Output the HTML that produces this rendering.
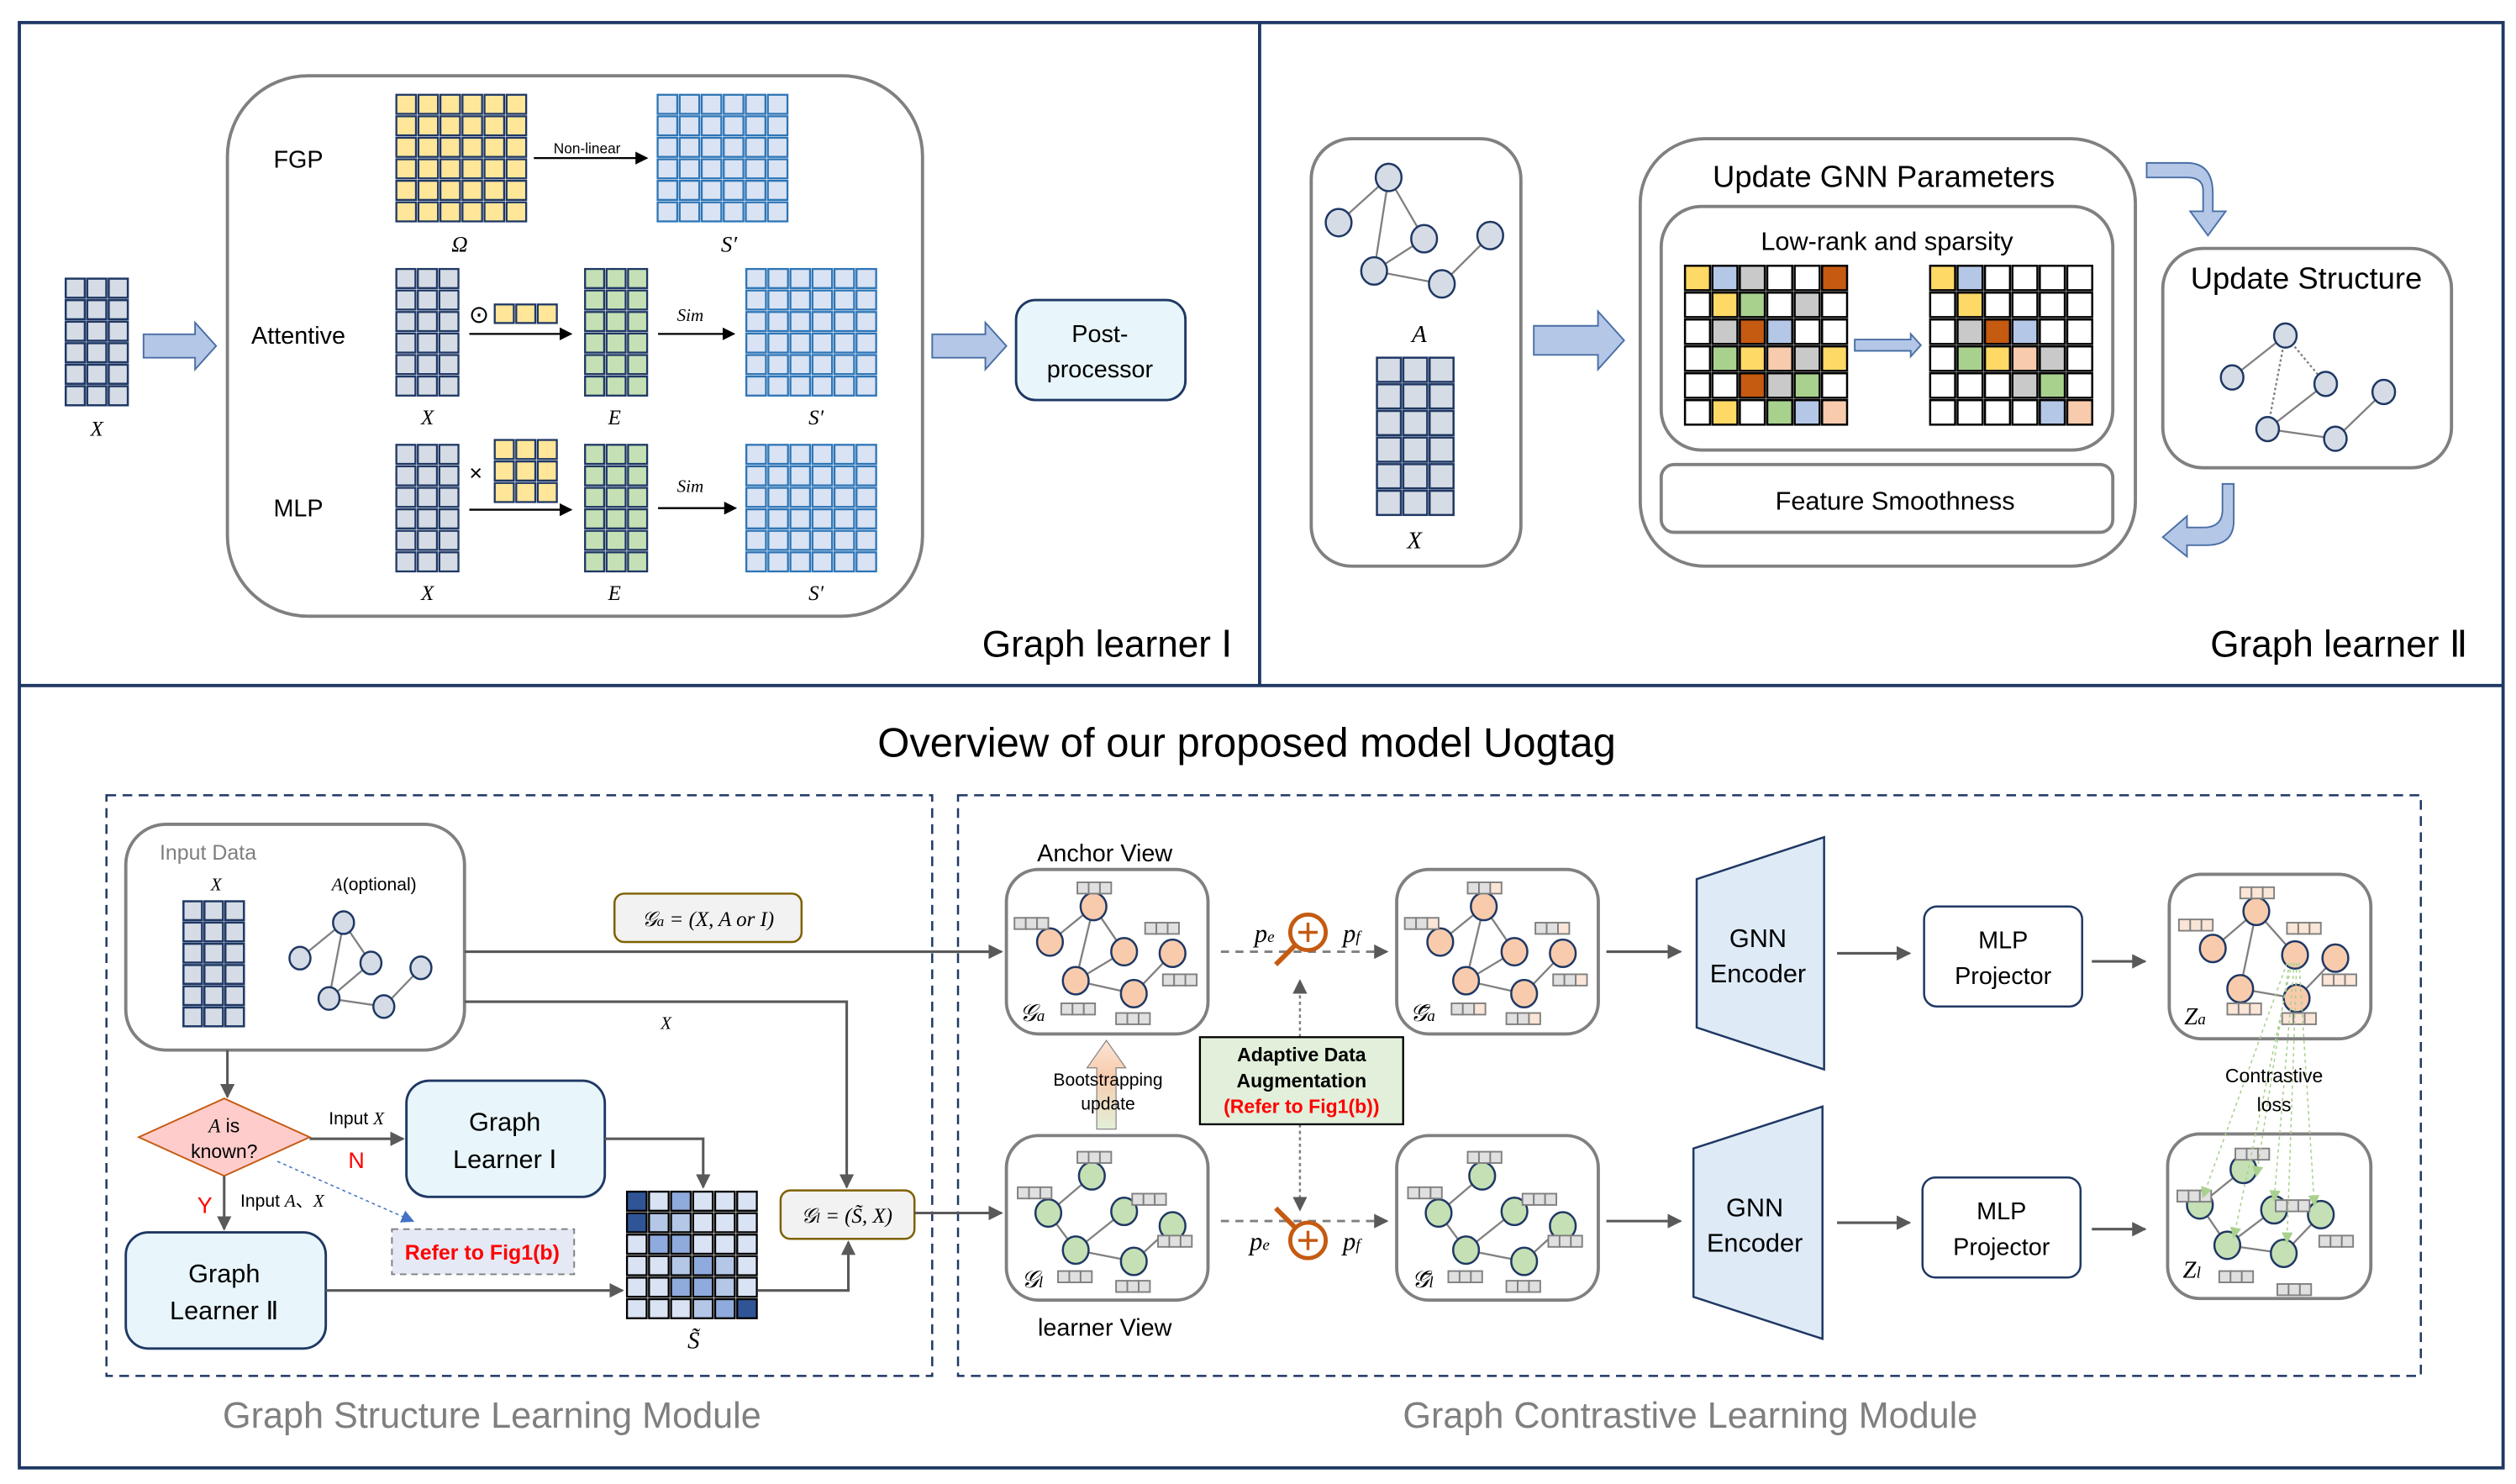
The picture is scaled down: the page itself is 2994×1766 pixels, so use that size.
<!DOCTYPE html>
<html><head><meta charset="utf-8"><style>
html,body{margin:0;padding:0;background:#fff}
svg{display:block}
text{font-family:"Liberation Sans",sans-serif}
.it{font-family:"Liberation Serif",serif;font-style:italic}
</style></head><body>
<svg id="s" width="2994" height="1766" viewBox="0 0 1560 920" preserveAspectRatio="none" xmlns="http://www.w3.org/2000/svg">
<defs>
<marker id="ah" markerWidth="8" markerHeight="8" refX="7" refY="4" orient="auto" markerUnits="userSpaceOnUse"><path d="M0,0 L8,4 L0,8 z" fill="#000"/></marker>
<marker id="ag" markerWidth="9" markerHeight="9" refX="8" refY="4.5" orient="auto" markerUnits="userSpaceOnUse"><path d="M0,0 L9,4.5 L0,9 z" fill="#595959"/></marker>
<marker id="ab" markerWidth="8" markerHeight="8" refX="7" refY="4" orient="auto" markerUnits="userSpaceOnUse"><path d="M0,0 L8,4 L0,8 z" fill="#4472c4"/></marker>
<marker id="agr" markerWidth="7" markerHeight="7" refX="6" refY="3.5" orient="auto" markerUnits="userSpaceOnUse"><path d="M0,0 L7,3.5 L0,7 z" fill="#a9d18e"/></marker>
<linearGradient id="bg" x1="0" y1="0" x2="0" y2="1"><stop offset="0" stop-color="#fbe5d6"/><stop offset="0.4" stop-color="#f8cbad"/><stop offset="1" stop-color="#e2f0d9"/></linearGradient>
</defs>
<g id="g"></g>
</svg>
<script>
var G=document.getElementById('g');var out='';
function a(s){out+=s;}
function rect(x,y,w,h,f,st,sw,rx,extra){a('<rect x="'+x+'" y="'+y+'" width="'+w+'" height="'+h+'" fill="'+f+'" stroke="'+st+'" stroke-width="'+(sw||1)+'" rx="'+(rx||0)+'" '+(extra||'')+'/>');}
function txt(x,y,s,sz,o){o=o||{};a('<text x="'+x+'" y="'+y+'" font-size="'+sz+'" text-anchor="'+(o.anchor||'middle')+'" fill="'+(o.fill||'#000')+'" '+(o.cls?'class="'+o.cls+'"':'')+' '+(o.extra||'')+'>'+s+'</text>');}
function line(x1,y1,x2,y2,st,sw,extra){a('<line x1="'+x1+'" y1="'+y1+'" x2="'+x2+'" y2="'+y2+'" stroke="'+st+'" stroke-width="'+(sw||1)+'" '+(extra||'')+'/>');}
function path(d,f,st,sw,extra){a('<path d="'+d+'" fill="'+f+'" stroke="'+st+'" stroke-width="'+(sw||1)+'" '+(extra||'')+'/>');}
function grid(x,y,w,h,c,r,fill,st,sw,gap){gap=gap==null?1.5:gap;var cw=w/c,ch=h/r;for(var i=0;i<r;i++)for(var j=0;j<c;j++){var f=typeof fill=='function'?fill(i,j):fill;rect(x+j*cw+gap/2,y+i*ch+gap/2,cw-gap,ch-gap,f,st,sw||1);}}
function barrow(x1,y1,x2,y2){var h=y2-y1,m=(y1+y2)/2,t=h*0.25,hx=x2-(h*0.45);path('M'+x1+','+(y1+t)+' L'+hx+','+(y1+t)+' L'+hx+','+y1+' L'+x2+','+m+' L'+hx+','+y2+' L'+hx+','+(y2-t)+' L'+x1+','+(y2-t)+' Z','#b4c7e7','#4a6fa5',1);}
var NAVY='#1f3864',GR='#7f7f7f';
rect(12,14,1540,896,'none',NAVY,2);
line(781,14,781,425,NAVY,2);line(12,425,1552,425,NAVY,2);
grid(40,172,40,80,3,6,'#d6dce5',NAVY,1.3);txt(60,270,'X',13,{cls:'it'});
barrow(89,200,134,229);
rect(141,47,431,335,'none','#808080',2,50);
txt(185,104,'FGP',15);
grid(245,58,82,80,6,6,'#ffe699',NAVY,1.2);txt(285,156,'Ω',14,{cls:'it'});
line(331,98,401,98,'#000',1.2,'marker-end="url(#ah)"');txt(364,95,'Non-linear',9);
grid(407,58,82,80,6,6,'#dae3f3','#2e75b6',1.2);txt(452,156,"S′",14,{cls:'it'});
txt(185,213,'Attentive',15);
grid(245,166,40,80,3,6,'#d6dce5',NAVY,1.2);
txt(297,200,'⊙',15);grid(306,188,40,13,3,1,'#ffe699',NAVY,1.2);
line(291,207,354,207,'#000',1.2,'marker-end="url(#ah)"');
grid(362,166,40,80,3,6,'#c5e0b4',NAVY,1.2);
txt(428,199,'Sim',11,{cls:'it'});line(408,207,455,207,'#000',1.2,'marker-end="url(#ah)"');
grid(462,166,82,80,6,6,'#dae3f3','#2e75b6',1.2);
txt(265,263,'X',13,{cls:'it'});txt(381,263,'E',13,{cls:'it'});txt(506,263,"S′",13,{cls:'it'});
txt(185,320,'MLP',15);
grid(245,275,40,80,3,6,'#d6dce5',NAVY,1.2);txt(295,298,'×',14);
grid(306,272,40,40,3,3,'#ffe699',NAVY,1.2);
line(291,316,354,316,'#000',1.2,'marker-end="url(#ah)"');
grid(362,275,40,80,3,6,'#c5e0b4',NAVY,1.2);
txt(428,305,'Sim',11,{cls:'it'});line(408,315,456,315,'#000',1.2,'marker-end="url(#ah)"');
grid(462,275,82,80,6,6,'#dae3f3','#2e75b6',1.2);
txt(265,372,'X',13,{cls:'it'});txt(381,372,'E',13,{cls:'it'});txt(506,372,"S′",13,{cls:'it'});
barrow(578,200,624,229);
rect(630,186,105,62,'#e8f6fb',NAVY,1.5,12);
txt(682,212,'Post-',15);txt(682,234,'processor',15);
txt(764,407,'Graph learner Ⅰ',23,{anchor:'end'});
function node(x,y,f,r){a('<ellipse cx="'+x+'" cy="'+y+'" rx="'+(r||8)+'" ry="'+((r||8)+0.5)+'" fill="'+f+'" stroke="'+NAVY+'" stroke-width="1.3"/>');}
function graph(ns,es,f,r,ec){es.forEach(function(e){var p=ns[e[0]],q=ns[e[1]];line(p[0],p[1],q[0],q[1],ec||'#808080',1.2,e[2]?'stroke-dasharray="1.5,1.5"':'');});ns.forEach(function(n){node(n[0],n[1],f,r);});}
rect(813,86,130,265,'none','#808080',2,25);
var nA=[[861,110],[830,138],[883,148],[924,146],[852,168],[894,176]];
graph(nA,[[0,1],[0,4],[0,2],[2,4],[4,5],[5,3]],'#d6dce5',8);
txt(880,212,'A',15,{cls:'it'});
grid(853,221,49,99,3,6,'#d6dce5',NAVY,1.3);txt(877,340,'X',15,{cls:'it'});
barrow(951,193,1007,229);
rect(1017,86,307,265,'none','#808080',2,40);
txt(1168,116,'Update GNN Parameters',19);
rect(1030,128,280,151,'none','#808080',2,25);
txt(1170,155,'Low-rank and sparsity',16);
var C={Y:'#ffd966',B:'#b4c7e7',G:'#c9c9c9',W:'#fff',O:'#c55a11',R:'#a9d18e',P:'#f8cbad'};
var L=['YBGWWO','WYRWGW','WGOBWW','WRYPGY','WWOGRW','WYWRBP'];
var Rr=['YBWWWW','WYWWWW','WGOBWW','WRYPGW','WWWGRW','WWWWBP'];
grid(1044,164,102,100,6,6,function(i,j){return C[L[i][j]];},'#000',1.3,1.5);
grid(1196,164,102,100,6,6,function(i,j){return C[Rr[i][j]];},'#000',1.3,1.5);
barrow(1150,207,1191,221);
rect(1030,288,280,42,'none','#808080',2,8);txt(1175,316,'Feature Smoothness',16);
path('M1331,101 L1356,101 Q1372,101 1372,120 L1372,131 L1380,131 L1369,146 L1358,131 L1366,131 L1366,118 Q1366,110 1356,110 L1331,110 Z','#b4c7e7','#4a6fa5',1);
rect(1341,154,179,136,'none','#808080',2,25);
txt(1430,179,'Update Structure',19);
var nS=[[1417,208],[1384,234],[1442,238],[1478,243],[1406,266],[1448,272]];
graph(nS,[[0,1],[0,4,1],[0,2,1],[2,4],[4,5],[5,3]],'#d6dce5',7);
path('M1378,300 L1385,300 L1385,323 Q1385,338 1368,338 L1356,338 L1356,345 L1341,333 L1356,320 L1356,327 L1366,327 Q1378,327 1378,316 Z','#b4c7e7','#4a6fa5',1);
txt(1530,407,'Graph learner Ⅱ',23,{anchor:'end'});
txt(773,469,'Overview of our proposed model Uogtag',25.5);
rect(66,493,512,360,'none',NAVY,1.3,0,'stroke-dasharray="6,4"');
rect(594,493,907,360,'none',NAVY,1.3,0,'stroke-dasharray="6,4"');
txt(305,885,'Graph Structure Learning Module',22.5,{fill:'#7f7f7f'});
txt(1048,885,'Graph Contrastive Learning Module',22.5,{fill:'#7f7f7f'});
rect(78,511,210,140,'none','#808080',2,25);
txt(99,533,'Input Data',13,{anchor:'start',fill:'#7f7f7f'});
txt(134,552,'X',11,{cls:'it'});grid(113,558,39,79,3,6,'#d6dce5',NAVY,1.3);
txt(232,552,'<tspan class="it">A</tspan>(optional)',11);
var nI=[[213,572],[186,594],[230,597],[261,600],[204,619],[238,624]];
graph(nI,[[0,1],[0,4],[0,2],[2,4],[4,5],[5,3]],'#d6dce5',6.5);
var GL='#595959';
line(288,590,621,590,GL,1.6,'marker-end="url(#ag)"');
rect(381,554,116,30,'#f2f2f2','#7f6000',1.3,6);
txt(439,574,'𝒢<tspan font-size="9">a</tspan> = (X, A or I)',13,{cls:'it'});
path('M288,621 L525,621 L525,736','none',GL,1.6,'marker-end="url(#ag)"');
txt(413,638,'X',11,{cls:'it'});
line(141,651,141,680,GL,1.6,'marker-end="url(#ag)"');
path('M86,705 L139,681 L192,705 L139,729 Z','#ffcccc','#c55a11',1);
txt(139,702,'<tspan class="it">A</tspan> is',12);txt(139,718,'known?',12);
line(192,706,250,706,GL,1.6,'marker-end="url(#ag)"');
txt(221,697,'Input <tspan class="it">X</tspan>',11);txt(221,724,'N',14,{fill:'#ff0000'});
rect(252,670,123,72,'#e8f6fb',NAVY,1.5,14);
txt(313,701,'Graph',16);txt(313,724,'Learner Ⅰ',16);
path('M375,706 L436,706 L436,736','none',GL,1.6,'marker-end="url(#ag)"');
line(139,729,139,762,GL,1.6,'marker-end="url(#ag)"');
txt(127,752,'Y',14,{fill:'#ff0000'});txt(175,748,'Input <tspan class="it">A</tspan>、<tspan class="it">X</tspan>',11);
line(172,720,256,757,'#4472c4',0.8,'stroke-dasharray="2,2" marker-end="url(#ab)"');
rect(243,762,113,28,'#e4e9f5','#7f7f7f',1,0,'stroke-dasharray="4,3"');
txt(299,781,'Refer to Fig1(b)',13,{fill:'#ff0000',extra:'font-weight="bold"'});
rect(78,764,124,72,'#e8f6fb',NAVY,1.5,14);
txt(139,795,'Graph',16);txt(139,818,'Learner Ⅱ',16);
line(202,800,386,800,GL,1.6,'marker-end="url(#ag)"');
var SC={D:'#2f5597',M:'#8faadc',m:'#b4c7e7',L:'#dae3f3'};
var SS=['DLMLLL','DmmLLL','LMMLLL','LLmMmL','LLMMmL','LLLmMD'];
grid(388,738,82,80,6,6,function(i,j){return SC[SS[i][j]];},'#000',1.2,1.5);
txt(430,836,'S̃',15,{cls:'it'});
path('M470,800 L526,800 L526,770','none',GL,1.6,'marker-end="url(#ag)"');
rect(484,738,83,30,'#f2f2f2','#7f6000',1.3,6);
txt(525,758,'𝒢<tspan font-size="9">l</tspan> = (S̃, X)',13,{cls:'it'});
line(567,752,621,752,GL,1.6,'marker-end="url(#ag)"');
function bars(list,f2){list.forEach(function(b){for(var k=0;k<3;k++){rect(b[0]+k*7,b[1],7,7,(k==2&&f2)?f2:'#e0e0e0','#808080',1);}});}
function view(x,y,ns,es,f,lbl,bl,f2){rect(x,y,125,102,'#fff','#808080',2,20);es.forEach(function(e){var p=ns[e[0]],q=ns[e[1]];line(p[0],p[1],q[0],q[1],'#808080',1.2);});ns.forEach(function(n){node(n[0],n[1],f,8);});bars(bl,f2);txt(x+16,y+94,lbl,15,{cls:'it'});}
function shift(ns,dx,dy){return ns.map(function(n){return [n[0]+dx,n[1]+dy];});}
var nGa=[[678,562],[651,584],[697,590],[727,591],[667,608],[703,616]],eGa=[[0,1],[0,4],[0,2],[2,4],[4,5],[5,3]];
var bGa=[[668,547],[629,569],[710,572],[721,604],[658,622],[692,628]];
txt(685,534,'Anchor  View',15);
view(624,539,nGa,eGa,'#f8cbad','𝒢<tspan font-size="10">a</tspan>',bGa);
view(866,539,shift(nGa,242,0),eGa,'#f8cbad','𝒢̄<tspan font-size="10">a</tspan>',shift(bGa,242,0),'#fbe5d6');
var nGl=[[677,729],[650,752],[697,751],[727,760],[667,775],[703,782]],eGl=[[0,1],[1,4],[2,4],[4,5],[5,3]];
var bGl=[[668,714],[631,736],[702,740],[718,766],[656,788],[692,794]];
view(624,704,nGl,eGl,'#c5e0b4','𝒢<tspan font-size="10">l</tspan>',bGl);
view(866,704,shift(nGl,242,0),eGl,'#c5e0b4','𝒢̄<tspan font-size="10">l</tspan>',shift(bGl,242,0));
txt(685,828,'learner  View',15);
line(757,590,860,590,'#7f7f7f',1.5,'stroke-dasharray="5,4" marker-end="url(#ag)"');
line(757,757,860,757,'#7f7f7f',1.5,'stroke-dasharray="5,4" marker-end="url(#ag)"');
function mag(cx,cy,hx,hy){line(cx-7,cy+(hy>0?7:-7),cx-7+hx,cy+(hy>0?7:-7)+hy,'#c55a11',3);a('<circle cx="'+cx+'" cy="'+cy+'" r="11" fill="#fff" stroke="#c55a11" stroke-width="2.5"/>');line(cx-6,cy,cx+6,cy,'#c55a11',1.8);line(cx,cy-6,cx,cy+6,'#c55a11',1.8);}
mag(811,578,-13,13);mag(811,769,-13,-13);
txt(784,584,'p<tspan font-size="10">e</tspan>',16,{cls:'it'});txt(838,584,'p<tspan font-size="10">f</tspan>',16,{cls:'it'});
txt(781,775,'p<tspan font-size="10">e</tspan>',16,{cls:'it'});txt(838,775,'p<tspan font-size="10">f</tspan>',16,{cls:'it'});
line(806,643,806,608,'#7f7f7f',1.3,'stroke-dasharray="2,2" marker-end="url(#ag)"');
line(806,697,806,750,'#7f7f7f',1.3,'stroke-dasharray="2,2" marker-end="url(#ag)"');
rect(744,643,126,54,'#e2efda','#000',1.2);
txt(807,658,'Adaptive Data',12,{extra:'font-weight="bold"'});txt(807,674,'Augmentation',12,{extra:'font-weight="bold"'});
txt(807,690,'(Refer to Fig1(b))',12,{fill:'#ff0000',extra:'font-weight="bold"'});
path('M680,700 L680,662 L674,662 L686,645 L698,662 L692,662 L692,700 Z','url(#bg)','#7f7f7f',0.6);
txt(687,673,'Bootstrapping',11);txt(687,688,'update',11);
line(996,590,1042,590,GL,1.6,'marker-end="url(#ag)"');
line(996,757,1042,757,GL,1.6,'marker-end="url(#ag)"');
path('M1052,545 L1131,519 L1131,663 L1052,637 Z','#deebf7',NAVY,1.3);
txt(1090,587,'GNN',16);txt(1090,609,'Encoder',16);
path('M1050,712 L1130,686 L1130,830 L1050,804 Z','#deebf7',NAVY,1.3);
txt(1088,754,'GNN',16);txt(1088,776,'Encoder',16);
line(1139,591,1184,591,GL,1.6,'marker-end="url(#ag)"');
line(1139,758,1184,758,GL,1.6,'marker-end="url(#ag)"');
rect(1193,562,98,62,'#fff',NAVY,1.3,8);txt(1242,588,'MLP',15);txt(1242,610,'Projector',15);
rect(1192,730,98,62,'#fff',NAVY,1.3,8);txt(1241,756,'MLP',15);txt(1241,778,'Projector',15);
line(1297,596,1330,596,GL,1.6,'marker-end="url(#ag)"');
line(1297,762,1330,762,GL,1.6,'marker-end="url(#ag)"');
var nZa=[[1399,565],[1372,588],[1423,592],[1448,594],[1389,613],[1424,619]];
rect(1345,542,125,102,'#fff','#808080',2,20);
[[0,1],[0,4],[0,2],[4,5],[5,3]].forEach(function(e){var p=nZa[e[0]],q=nZa[e[1]];line(p[0],p[1],q[0],q[1],'#808080',1.2);});
nZa.forEach(function(n){node(n[0],n[1],'#f8cbad',8);});
function bars2(list,f){list.forEach(function(b){for(var k=0;k<3;k++)rect(b[0]+k*7,b[1],7,7,f,'#808080',1);});}
bars2([[1389,550],[1351,570],[1418,572],[1440,604],[1381,622],[1415,628]],'#fbe5d6');
txt(1361,635,'Z<tspan font-size="10">a</tspan>',15,{cls:'it'});
var nZl=[[1391,725],[1364,747],[1410,750],[1439,753],[1381,772],[1416,777]];
rect(1344,703,126,102,'#fff','#808080',2,20);
[[0,1],[1,4],[2,4],[4,5],[5,3]].forEach(function(e){var p=nZl[e[0]],q=nZl[e[1]];line(p[0],p[1],q[0],q[1],'#808080',1.2);});
nZl.forEach(function(n){node(n[0],n[1],'#c5e0b4',8);});
bars2([[1386,712],[1350,738],[1411,744],[1438,766],[1376,788],[1412,796]],'#e0e0e0');
txt(1359,792,'Z<tspan font-size="10">l</tspan>',15,{cls:'it'});
[[1366,742],[1399,729],[1385,767],[1410,744],[1418,770],[1435,747]].forEach(function(t,i){line(1421+(i-2)*1.5,597,t[0],t[1],'#a9d18e',0.8,'stroke-dasharray="2,2" marker-end="url(#agr)"');});
txt(1410,671,'Contrastive',12);txt(1410,689,'loss',12);
G.innerHTML=out;
</script>
</body></html>
